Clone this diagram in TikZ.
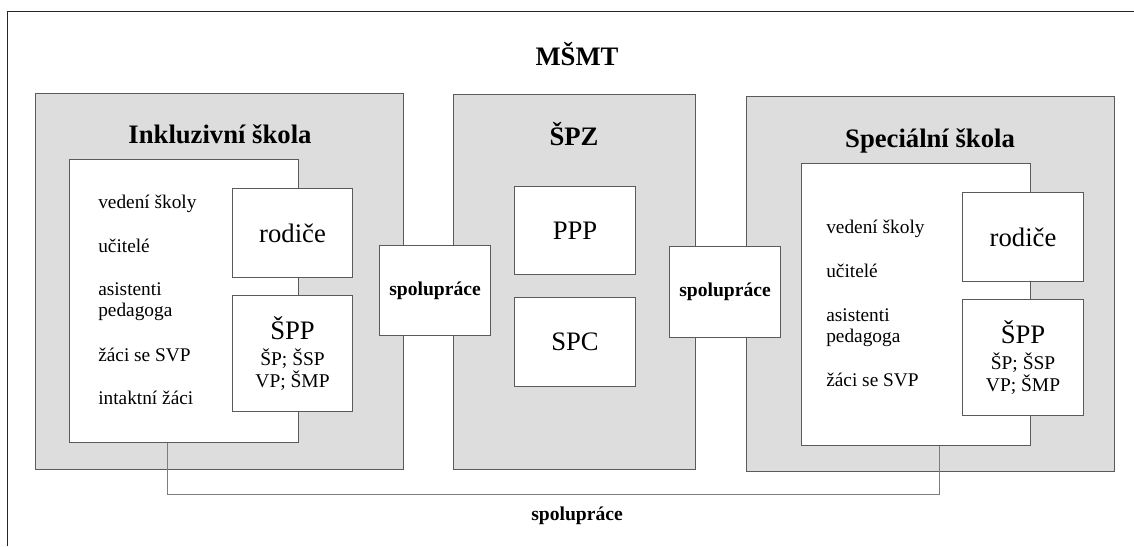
\documentclass[tikz,border=0pt]{standalone}
\usepackage{fontspec}
\setmainfont{LiberationSerif}[Extension=.ttf,UprightFont=*-Regular,
  BoldFont=*-Bold,ItalicFont=*-Italic,BoldItalicFont=*-BoldItalic]
\usepackage{xcolor}
\usetikzlibrary{positioning}
\definecolor{panelGray}{RGB}{221,221,221}
\definecolor{edgeGray}{RGB}{90,90,90}
\definecolor{linkGray}{RGB}{125,125,125}
\newlength{\upx}
\setlength{\upx}{0.75pt}

\begin{document}
\begin{tikzpicture}[x=0.75pt,y=-0.75pt,
  panel/.style={rectangle,draw=edgeGray,fill=panelGray,line width=0.8pt,
                anchor=north west,inner sep=0pt},
  sheet/.style={rectangle,draw=edgeGray,fill=white,line width=0.8pt,
                anchor=north west,inner sep=0pt,align=center},
  title/.style={anchor=base,inner sep=0pt,font=\fontsize{20}{24}\selectfont\bfseries},
  item/.style={anchor=base west,align=left,inner sep=0pt,
               font=\fontsize{14.5}{15.75}\selectfont},
  big/.style={font=\fontsize{20}{24}\selectfont},
  coop/.style={font=\fontsize{14.7}{17}\selectfont\bfseries},
  link/.style={draw=linkGray,line width=0.6pt}]
\useasboundingbox (0,0) rectangle (1134,546);
% frame
\draw[line width=1.1pt,black!85] (1134,11.7) -- (7.3,11.7) -- (7.3,546);

% three panels
\node[panel,minimum width=368\upx,minimum height=376\upx] (inkl) at (35,93) {};
\node[panel,minimum width=242\upx,minimum height=375\upx] (spz) at (453,94) {};
\node[panel,minimum width=368\upx,minimum height=375\upx] (spec) at (746,96) {};

\node[title] (msmt) at (577,65) {MŠMT};
\node[title] (inkl-t) at (220,143) {Inkluzivní škola};
\node[title] (spz-t) at (574,145) {ŠPZ};
\node[title] (spec-t) at (930,147) {Speciální škola};

% school sheets
\node[sheet,minimum width=229\upx,minimum height=283\upx] (inkl-in) at (69,159) {};
\node[sheet,minimum width=229\upx,minimum height=282\upx] (spec-in) at (801,163) {};

\coordinate (linkL) at (167,494);
\coordinate (linkR) at (939,494);
\draw[link] (inkl-in.south -| linkL) -- (linkL) -- (linkR) -- (spec-in.south -| linkR);
\node[coop,anchor=base] (coop-b) at (577,520) {spolupráce};

% base of a two-line item is its last line
\foreach \y/\txt [count=\i] in {208/{vedení školy},252/{učitelé},
    316/{asistenti\\pedagoga},361/{žáci se SVP},404/{intaktní žáci}}
  \node[item] (inkl-\i) at (98,\y) {\txt};
\foreach \y/\txt [count=\i] in {233/{vedení školy},277/{učitelé},
    342/{asistenti\\pedagoga},386/{žáci se SVP}}
  \node[item] (spec-\i) at (826,\y) {\txt};

% cells
\node[sheet,big,minimum width=120\upx,minimum height=89\upx] (inkl-rod) at (232,188) {rodiče};
\node[sheet,minimum width=120\upx,minimum height=116\upx,
      font=\fontsize{14.6}{16.5}\selectfont] (inkl-spp) at (232,295)
  {{\fontsize{20}{20}\selectfont ŠPP}\\[3pt]ŠP; ŠSP\\VP; ŠMP};
\node[sheet,big,minimum width=121\upx,minimum height=89\upx] (spec-rod) at (962,192) {rodiče};
\node[sheet,minimum width=121\upx,minimum height=116\upx,
      font=\fontsize{14.6}{16.5}\selectfont] (spec-spp) at (962,299)
  {{\fontsize{20}{20}\selectfont ŠPP}\\[3pt]ŠP; ŠSP\\VP; ŠMP};

\node[sheet,big,minimum width=121\upx,minimum height=88\upx] (ppp) at (514,186) {PPP};
\node[sheet,big,minimum width=121\upx,minimum height=89\upx] (spc) at (514,297) {SPC};

\node[sheet,coop,minimum width=111\upx,minimum height=90\upx] (coop-l) at (379,245) {spolupráce};
\node[sheet,coop,minimum width=111\upx,minimum height=91\upx] (coop-r) at (669,246) {spolupráce};
\end{tikzpicture}
\end{document}
